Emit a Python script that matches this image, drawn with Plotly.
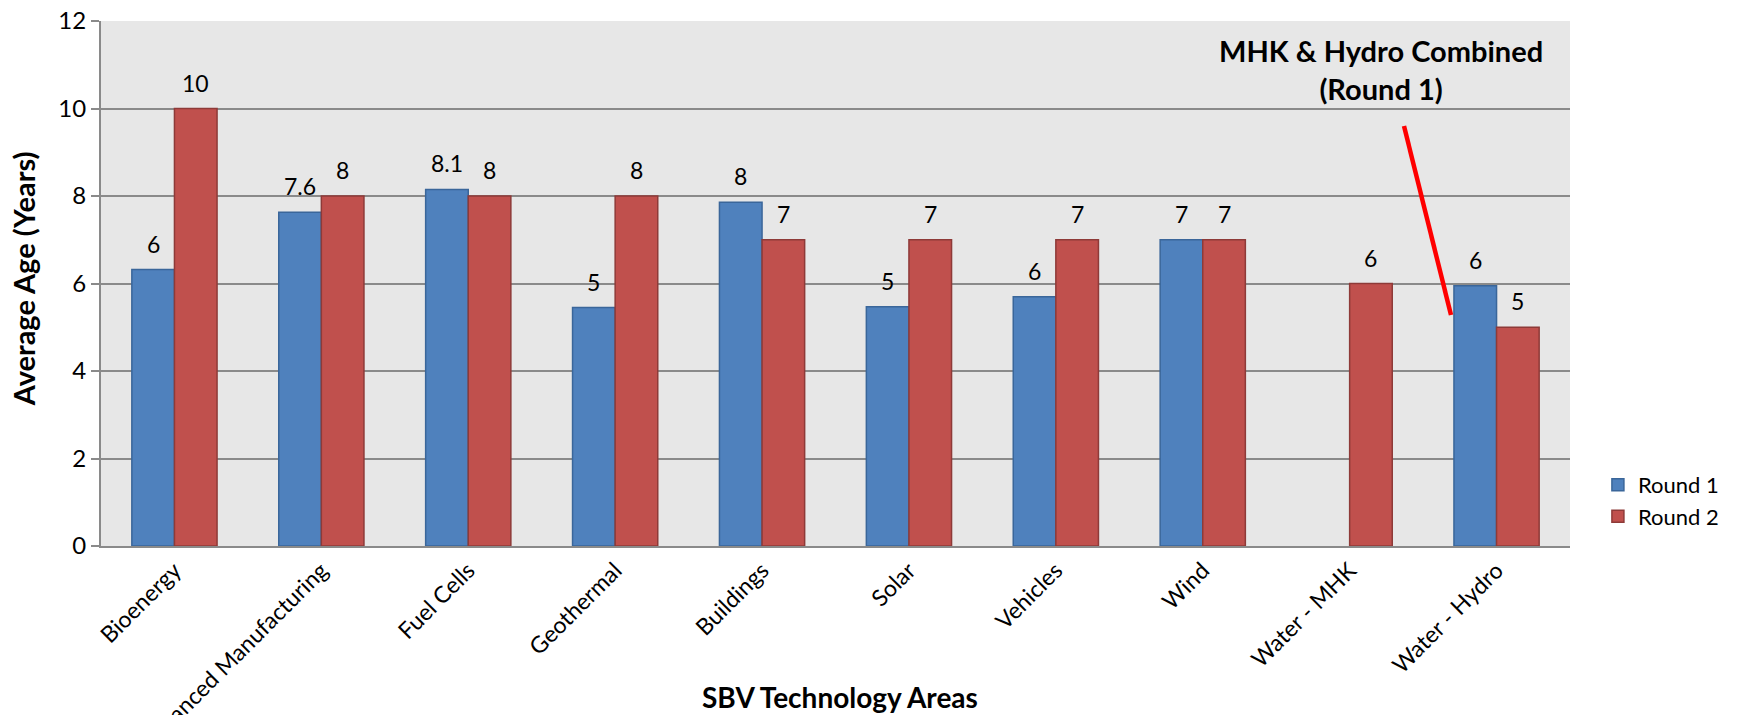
import plotly.graph_objects as go

categories = ["Bioenergy", "Advanced Manufacturing", "Fuel Cells", "Geothermal",
              "Buildings", "Solar", "Vehicles", "Wind", "Water - MHK", "Water - Hydro"]
round1 = [6.32, 7.63, 8.15, 5.45, 7.86, 5.47, 5.70, 7.0, None, 5.95]
round2 = [10, 8, 8, 8, 7, 7, 7, 7, 6, 5]
round1_labels = ["6", "7.6", "8.1", "5", "8", "5", "6", "7", "", "6"]
round2_labels = ["10", "8", "8", "8", "7", "7", "7", "7", "6", "5"]
y_ticks = [0, 2, 4, 6, 8, 10, 12]

FONT = "Lato"
BLUE, BLUE_EDGE = "#4F81BD", "#3A669A"
RED, RED_EDGE = "#C0504D", "#8E3A38"
GRID = "#8A8A8A"
BARGAP = 0.42

fig = go.Figure()
fig.add_trace(go.Bar(name="Round 1", x=categories, y=round1,
                     marker=dict(color=BLUE, line=dict(color=BLUE_EDGE, width=1.5))))
fig.add_trace(go.Bar(name="Round 2", x=categories, y=round2,
                     marker=dict(color=RED, line=dict(color=RED_EDGE, width=1.5))))

annotations = []
half = (1 - BARGAP) / 4
for s, (vals, labs) in enumerate([(round1, round1_labels), (round2, round2_labels)]):
    off = -half if s == 0 else half
    for i, (v, t) in enumerate(zip(vals, labs)):
        if v is None or not t:
            continue
        annotations.append(dict(x=i + off, y=v, xref="x", yref="y", text=t,
                                showarrow=False, yanchor="middle", yshift=26,
                                font=dict(family=FONT, size=23, color="black")))

# Axis titles
annotations.append(dict(text="<b>Average Age (Years)</b>", xref="paper", yref="paper",
                        x=-0.0531, y=0.51, textangle=-90, showarrow=False,
                        xanchor="center", yanchor="middle",
                        font=dict(family=FONT, size=29, color="black")))
annotations.append(dict(text="<b>SBV Technology Areas</b>", xref="paper", yref="paper",
                        x=0.503, y=-0.287, showarrow=False,
                        xanchor="center", yanchor="middle",
                        font=dict(family=FONT, size=28, color="black")))
# Callout
annotations.append(dict(text="<b>MHK & Hydro Combined<br>(Round 1)</b>", xref="x", yref="y",
                        x=8.21, y=10.9, showarrow=False, xanchor="center", yanchor="middle",
                        font=dict(family=FONT, size=29, color="black")))

fig.add_shape(type="line", xref="x", yref="y", x0=8.37, y0=9.6, x1=8.69, y1=5.28,
              line=dict(color="#FF0000", width=4.5))

fig.update_layout(
    width=1764, height=715,
    margin=dict(l=101, r=194, t=21, b=169, autoexpand=False),
    barmode="group", bargap=BARGAP, bargroupgap=0,
    plot_bgcolor="#E7E7E7", paper_bgcolor="white",
    font=dict(family=FONT, size=22, color="black"),
    annotations=annotations,
    legend=dict(x=1.019, y=0.086, xanchor="left", yanchor="middle",
                font=dict(family=FONT, size=22, color="black"),
                bgcolor="rgba(0,0,0,0)", tracegroupgap=0, itemwidth=30),
    showlegend=True,
)
fig.update_xaxes(
    type="category", categoryorder="array", categoryarray=categories,
    tickangle=-45, tickfont=dict(family=FONT, size=23, color="black"),
    showline=True, linecolor=GRID, linewidth=2, showgrid=False,
    ticks="", automargin=False,
)
fig.update_yaxes(
    range=[0, 12], tickvals=y_ticks, ticktext=[str(v) for v in y_ticks],
    tickfont=dict(family=FONT, size=24, color="black"),
    showgrid=True, gridcolor=GRID, gridwidth=1.5,
    showline=True, linecolor=GRID, linewidth=2,
    ticks="outside", ticklen=8, tickcolor=GRID, tickwidth=1.5,
    zeroline=False, automargin=False,
)

fig.write_html("out.html", config={"displayModeBar": False},
               post_script="document.body.style.margin='0px';document.body.style.overflow='hidden';")
